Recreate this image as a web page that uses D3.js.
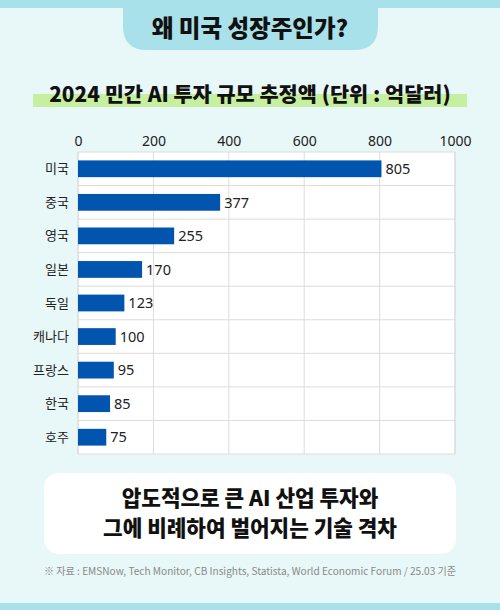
<!DOCTYPE html>
<html>
<head>
<meta charset="utf-8">
<script src="https://cdn.jsdelivr.net/npm/d3@7"></script>
<style>
  body { margin: 0; background: #e8f7f7; }
  svg { display: block; font-family: "Noto Sans CJK KR", "Noto Sans", sans-serif; }
</style>
</head>
<body>
<svg width="500" height="610"></svg>
<script>
// data
const countries = ["미국", "중국", "영국", "일본", "독일", "캐나다", "프랑스", "한국", "호주"];
const amounts = [805, 377, 255, 170, 123, 100, 95, 85, 75];
const ticks = [0, 200, 400, 600, 800, 1000];

const svg = d3.select("svg");
const W = 500, H = 610;

// background and top/bottom bands
svg.append("rect").attr("width", W).attr("height", H).style("fill", "#e8f7f7");
svg.append("rect").attr("width", W).attr("height", 8).style("fill", "#a9e1ea");
svg.append("rect").attr("y", 603).attr("width", W).attr("height", 7).style("fill", "#a9e1ea");

// title tab with rounded bottom corners
const tx0 = 123, tx1 = 378, ty1 = 50, r = 24;
svg.append("path")
    .attr("d", `M${tx0},0 L${tx0},${ty1 - r} Q${tx0},${ty1} ${tx0 + r},${ty1} L${tx1 - r},${ty1} Q${tx1},${ty1} ${tx1},${ty1 - r} L${tx1},0 Z`)
    .style("fill", "#a9e1ea");
svg.append("text")
    .attr("x", 250).attr("y", 37)
    .attr("text-anchor", "middle")
    .style("font-size", "23.5px").style("font-weight", 900).style("fill", "#111")
    .text("왜 미국 성장주인가?");

// subtitle with green highlight
svg.append("rect").attr("x", 33).attr("y", 94).attr("width", 434).attr("height", 13).style("fill", "#c6ef9f");
svg.append("text")
    .attr("x", 250).attr("y", 102)
    .attr("text-anchor", "middle")
    .style("font-size", "20.8px").style("font-weight", 900).style("fill", "#111")
    .text("2024 민간 AI 투자 규모 추정액 (단위 : 억달러)");

// chart
const plotL = 78, plotR = 455, plotT = 152, plotB = 454;
const x = d3.scaleLinear().domain([0, 1000]).range([plotL, plotR]);
const y = d3.scaleBand().domain(countries).range([plotT, plotB]).paddingInner(0.5).paddingOuter(0.25);

const chart = svg.append("g");
chart.append("rect")
    .attr("x", plotL).attr("y", plotT)
    .attr("width", plotR - plotL).attr("height", plotB - plotT)
    .style("fill", "#fff").style("stroke", "#dcdcdc");

// vertical gridlines
chart.selectAll("line.vgrid")
    .data(ticks)
    .enter().append("line")
    .attr("x1", d => x(d)).attr("x2", d => x(d))
    .attr("y1", plotT).attr("y2", plotB)
    .style("stroke", "#dcdcdc");

// horizontal lines between rows
const step = y.step();
chart.selectAll("line.hgrid")
    .data(countries.slice(1))
    .enter().append("line")
    .attr("x1", plotL).attr("x2", plotR)
    .attr("y1", d => y(d) - step * 0.25).attr("y2", d => y(d) - step * 0.25)
    .style("stroke", "#dcdcdc");

// top axis
const axis = d3.axisTop(x).tickValues(ticks).tickFormat(d3.format("d")).tickSize(0).tickPadding(6);
chart.append("g")
    .attr("transform", `translate(0,${plotT})`)
    .call(axis)
    .call(g => g.select(".domain").remove())
    .selectAll("text")
    .style("font-family", "'Noto Sans', sans-serif")
    .style("font-size", "14px").style("fill", "#222");

// category labels
chart.selectAll("text.cat")
    .data(countries)
    .enter().append("text")
    .attr("x", 69)
    .attr("y", d => y(d) + y.bandwidth() / 2)
    .attr("dy", "0.35em")
    .attr("text-anchor", "end")
    .style("font-size", "13px").style("fill", "#222")
    .text(d => d);

// bars
const rows = countries.map((c, i) => ({ c, v: amounts[i] }));
chart.selectAll("rect.bar")
    .data(rows)
    .enter().append("rect")
    .attr("x", x(0))
    .attr("y", d => y(d.c))
    .attr("width", d => x(d.v) - x(0))
    .attr("height", y.bandwidth())
    .style("fill", "#0255ae");

// value labels
chart.selectAll("text.val")
    .data(rows)
    .enter().append("text")
    .attr("x", d => x(d.v) + 4)
    .attr("y", d => y(d.c) + y.bandwidth() / 2)
    .attr("dy", "0.36em")
    .style("font-family", "'Noto Sans', sans-serif")
    .style("font-size", "14.5px").style("fill", "#222")
    .text(d => d.v);

// bottom summary box
svg.append("rect")
    .attr("x", 44).attr("y", 473).attr("width", 412).attr("height", 81).attr("rx", 15)
    .style("fill", "#fff");
svg.append("text")
    .attr("x", 250).attr("y", 506)
    .attr("text-anchor", "middle")
    .style("font-size", "21.3px").style("font-weight", 900).style("fill", "#111")
    .text("압도적으로 큰 AI 산업 투자와");
svg.append("text")
    .attr("x", 250).attr("y", 536)
    .attr("text-anchor", "middle")
    .style("font-size", "21.3px").style("font-weight", 900).style("fill", "#111")
    .text("그에 비례하여 벌어지는 기술 격차");

// source note
svg.append("text")
    .attr("x", 250).attr("y", 575)
    .attr("text-anchor", "middle")
    .style("font-size", "10.1px").style("fill", "#8a8a8a")
    .text("※ 자료 : EMSNow, Tech Monitor, CB Insights, Statista, World Economic Forum / 25.03 기준");
</script>
</body>
</html>
